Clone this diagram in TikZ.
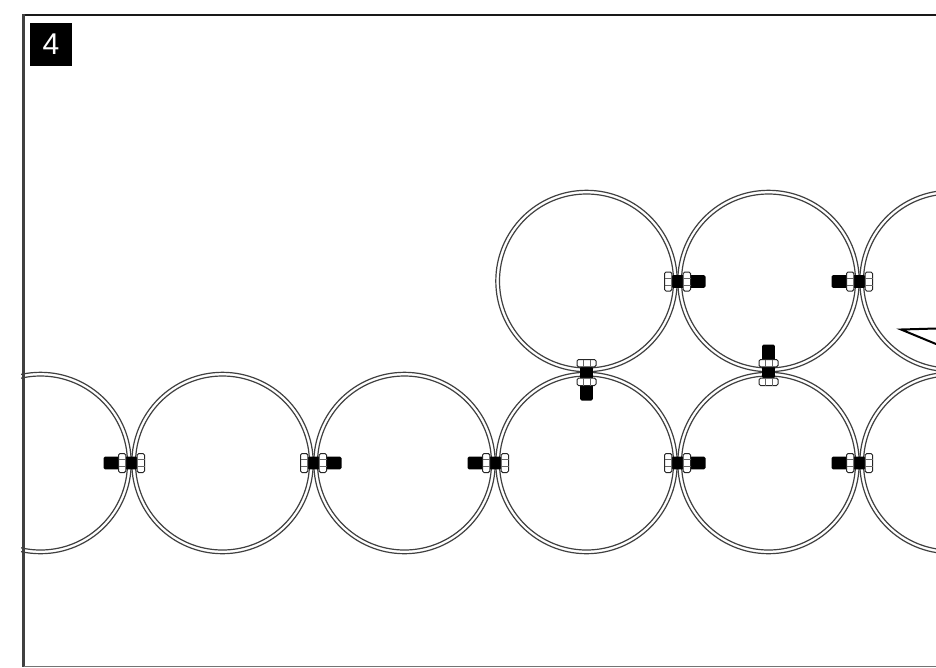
\documentclass[tikz,border=0pt]{standalone}
\usepackage{fontspec}
\setmainfont{Liberation Sans}
\tikzset{
  x=1pt,y=-1pt,
  ringline/.style={draw=black!75,line width=1.2pt},
  framing/.style={draw=black!90,line width=2pt},
  nutbody/.style={draw=black!85,fill=white,line width=1pt,rounded corners=1.5pt},
  nutfacet/.style={draw=black!60,line width=0.8pt},
  bolt/.pic={
    \fill[black,rounded corners=1.5pt] (-6,-6.3) rectangle (28,6.3);
    \draw[nutbody] (-13,-9.5) rectangle (-5.7,9.5);
    \draw[nutfacet] (-13,-3.5) -- (-5.7,-3.5) (-13,3.5) -- (-5.7,3.5);
    \draw[nutbody] (5.7,-9.5) rectangle (13,9.5);
    \draw[nutfacet] (5.7,-3.5) -- (13,-3.5) (5.7,3.5) -- (13,3.5);
  },
  ring/.pic={
    \draw[ringline] (0,0) circle[radius=90.7];
    \draw[ringline] (0,0) circle[radius=87];
  }
}
\begin{document}
\begin{tikzpicture}
\useasboundingbox (0,0) rectangle (936,667);
\fill[white] (0,0) rectangle (936,667);
\begin{scope}
  \clip (21,0) rectangle (936,667);
  \foreach \cx in {40.5,222.5,404.5,586.5,768.5,950.5}
    \pic at (\cx,463) {ring};
  \foreach \cx in {586.5,768.5,950.5}
    \pic at (\cx,281) {ring};
\end{scope}
\draw[framing] (936,15) -- (23.5,15);
\draw[framing,line width=2.6pt,draw=black!75] (23.5,14) -- (23.5,667);
\draw[draw=black!55,line width=1pt] (23.5,666) -- (936,666);
\node[fill=black,text=white,minimum size=42.5pt,inner sep=0pt,font=\fontsize{30}{30}\selectfont] (num) at (51,44.5) {4};
\coordinate (apex) at (901,329.5);
\coordinate (tipa) at (936,328.5);
\coordinate (tipb) at (936,344);
\draw[black,line width=2pt,line cap=round] (tipa) -- (apex) -- (tipb);
\pic[rotate=180] at (131.5,463) {bolt};
\pic at (313.5,463) {bolt};
\pic[rotate=180] at (495.5,463) {bolt};
\pic at (677.5,463) {bolt};
\pic[rotate=180] at (859.5,463) {bolt};
\pic at (677.5,281.5) {bolt};
\pic[rotate=180] at (859.5,281.5) {bolt};
\pic[rotate=-90] at (586.5,372.5) {bolt};
\pic[rotate=90] at (768.5,372.5) {bolt};
\end{tikzpicture}
\end{document}
